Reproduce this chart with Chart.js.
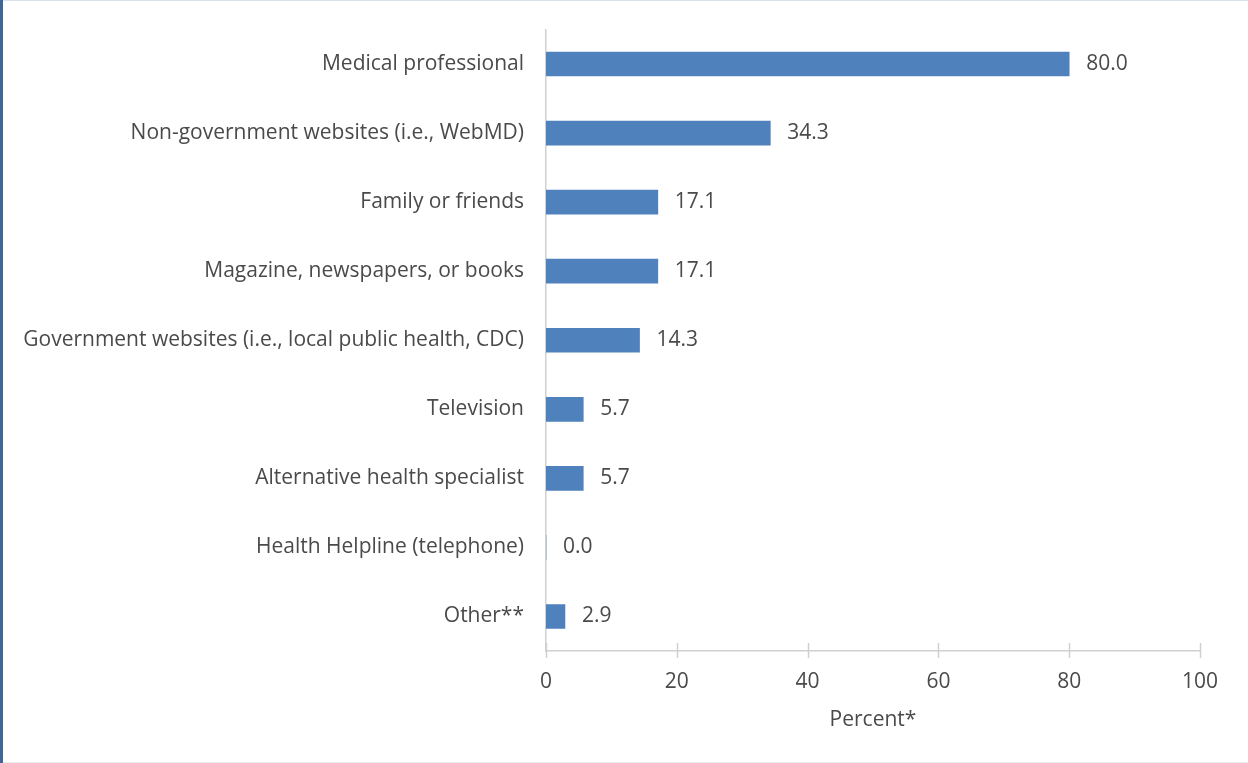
<!DOCTYPE html>
<html>
<head>
<meta charset="utf-8">
<script src="https://cdn.jsdelivr.net/npm/chart.js@4"></script>
<style>
  html, body { margin: 0; padding: 0; background: #fff; }
  #wrap { position: relative; width: 1248px; height: 763px; }
  canvas { display: block; }
  .bl { position: absolute; left: 0; top: 0; width: 3px; height: 763px; background: #3D6796; }
  .bt { position: absolute; left: 0; top: 0; width: 1248px; height: 1px; background: #D9E1EC; }
  .bb { position: absolute; left: 0; bottom: 0; width: 1248px; height: 1px; background: #E8EBEF; }
</style>
</head>
<body>
<div id="wrap"><canvas id="c"></canvas><div class="bt"></div><div class="bb"></div><div class="bl"></div></div>
<script>
const categories = [
  "Medical professional",
  "Non-government websites (i.e., WebMD)",
  "Family or friends",
  "Magazine, newspapers, or books",
  "Government websites (i.e., local public health, CDC)",
  "Television",
  "Alternative health specialist",
  "Health Helpline (telephone)",
  "Other**"
];
const percentValues = [80.0, 34.3, 17.1, 17.1, 14.3, 5.7, 5.7, 0.0, 2.9];
const xTickValues = [0, 20, 40, 60, 80, 100];
const xAxisTitle = "Percent*";

const FONT = "'Open Sans', sans-serif";
const FSIZE = 21;
const TEXT = "#4A4A4A";
const AXIS = "#D0D0D0";

const valueLabels = {
  id: 'valueLabels',
  afterDatasetsDraw(chart) {
    const ctx = chart.ctx;
    const meta = chart.getDatasetMeta(0);
    const xs = chart.scales.x;
    ctx.save();
    ctx.font = FSIZE + "px " + FONT;
    ctx.fillStyle = TEXT;
    ctx.textAlign = 'left';
    ctx.textBaseline = 'middle';
    meta.data.forEach((bar, i) => {
      const v = percentValues[i];
      ctx.fillText(v.toFixed(1), xs.getPixelForValue(v) + 17, bar.y);
    });
    ctx.restore();
  }
};

const crossTicks = {
  id: 'crossTicks',
  afterDraw(chart) {
    const ctx = chart.ctx;
    const xs = chart.scales.x;
    const y0 = chart.chartArea.bottom;
    ctx.save();
    ctx.strokeStyle = AXIS;
    ctx.lineWidth = 1.5;
    xs.ticks.forEach(t => {
      const px = Math.round(xs.getPixelForValue(t.value)) + 0.5;
      ctx.beginPath();
      ctx.moveTo(px, y0 - 8);
      ctx.lineTo(px, y0 + 7);
      ctx.stroke();
    });
    ctx.restore();
  }
};

new Chart(document.getElementById('c'), {
  type: 'bar',
  data: {
    labels: categories,
    datasets: [{
      data: percentValues,
      backgroundColor: '#4F81BD',
      borderWidth: 0,
      barThickness: 24
    }]
  },
  options: {
    indexAxis: 'y',
    responsive: true,
    maintainAspectRatio: false,
    animation: false,
    layout: { padding: { left: 0, top: 29.5, right: 48, bottom: 26.4 } },
    plugins: { legend: { display: false }, tooltip: { enabled: false } },
    scales: {
      x: {
        min: 0, max: 100,
        afterBuildTicks(scale) { scale.ticks = xTickValues.map(v => ({ value: v })); },
        afterFit(scale) { scale.height = 85.6; scale.paddingLeft = 0; scale.paddingRight = 0; },
        grid: { display: false, drawOnChartArea: false, drawTicks: false },
        border: { display: true, color: AXIS, width: 1.5 },
        ticks: { color: TEXT, font: { family: FONT, size: FSIZE }, padding: 18 },
        title: { display: true, text: xAxisTitle, color: TEXT, font: { family: FONT, size: FSIZE }, padding: { top: 4, bottom: 4 } }
      },
      y: {
        afterFit(scale) { scale.width = 546; scale.paddingTop = 0; scale.paddingBottom = 0; },
        grid: { display: false, drawTicks: false },
        border: { display: true, color: AXIS, width: 1.5 },
        ticks: { color: TEXT, font: { family: FONT, size: FSIZE }, padding: 22, autoSkip: false }
      }
    }
  },
  plugins: [valueLabels, crossTicks]
});
</script>
</body>
</html>
